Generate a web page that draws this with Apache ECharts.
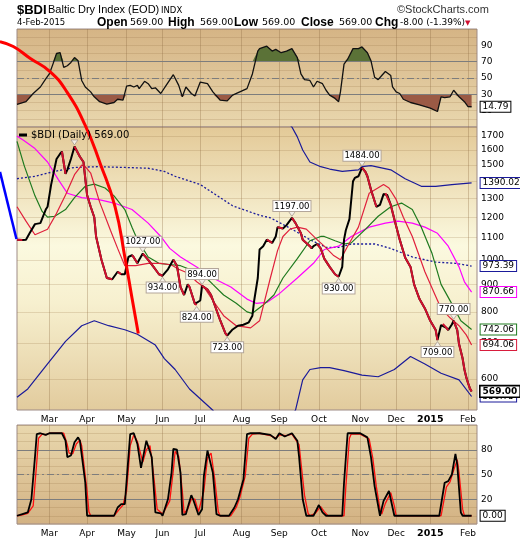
<!DOCTYPE html>
<html><head><meta charset="utf-8">
<script src="https://cdn.jsdelivr.net/npm/echarts@6/dist/echarts.min.js"></script>
<style>html,body{margin:0;padding:0;background:#fff}#c{width:520px;height:540px}</style>
</head><body><div id="c"></div>
<script>
// ---- trading calendar (weekdays, minus exchange holidays) ----
const holidays = ['2014-05-05','2014-05-26','2014-12-24','2014-12-25','2014-12-26','2014-12-31','2015-01-01'];
const monthNames = ['Jan','Feb','Mar','Apr','May','Jun','Jul','Aug','Sep','Oct','Nov','Dec'];
const days = [];
for (let t = Date.UTC(2014,1,5); t <= Date.UTC(2015,1,9); t += 86400000) {
  const d = new Date(t), wd = d.getUTCDay();
  if (wd === 0 || wd === 6) continue;
  const s = d.toISOString().slice(0,10);
  if (holidays.indexOf(s) >= 0) continue;
  days.push(s);
}
// ---- data: [trading-day index, value] ----
const price = [[0,1090],[3,1088],[5,1090],[7,1120],[10,1165],[13,1170],[16,1240],[17,1255],[19,1380],[22,1540],[24,1575],[25,1590],[27,1445],[28,1470],[29,1475],[30,1540],[32,1625],[35,1555],[37,1520],[39,1320],[41,1255],[43,1200],[44,1105],[47,1000],[50,925],[53,920],[55,940],[56,950],[58,940],[60,940],[62,1012],[64,1020],[65,1010],[67,985],[68,1000],[70,1027],[73,1000],[76,970],[79,940],[81,934],[84,960],[87,1000],[89,975],[91,890],[93,860],[95,900],[96,890],[99,828],[100,824],[102,840],[103,894],[106,880],[108,860],[110,824],[113,773],[116,730],[117,723],[120,742],[123,754],[126,757],[129,765],[131,787],[132,840],[134,925],[135,1045],[137,1060],[139,1090],[140,1085],[142,1075],[144,1105],[145,1150],[146,1145],[148,1143],[150,1160],[153,1197],[155,1170],[158,1120],[159,1090],[161,1075],[163,1060],[164,1050],[165,1060],[167,1070],[169,1050],[171,1005],[174,970],[177,940],[179,930],[181,970],[182,1090],[183,1135],[185,1190],[187,1400],[188,1420],[190,1430],[192,1484],[194,1455],[195,1430],[197,1350],[200,1255],[202,1265],[204,1325],[205,1330],[206,1320],[208,1265],[210,1190],[213,1090],[216,1010],[219,970],[221,900],[224,845],[227,812],[230,770],[233,740],[234,709],[236,756],[237,760],[239,747],[240,740],[242,758],[243,770],[245,740],[246,697],[248,655],[249,625],[250,605],[251,590],[252,577],[253,569]];
const maRed = [[0,1255],[5,1180],[10,1113],[17,1140],[22,1220],[27,1320],[32,1440],[36,1500],[38,1490],[41,1450],[46,1280],[52,1135],[56,1050],[60,975],[66,975],[73,985],[80,985],[86,978],[90,960],[95,945],[100,910],[104,890],[109,840],[115,787],[122,754],[130,747],[135,770],[141,925],[145,1040],[148,1105],[152,1140],[156,1150],[161,1140],[167,1090],[171,1060],[176,1020],[180,1000],[184,1060],[190,1150],[196,1330],[204,1380],[207,1360],[211,1295],[215,1200],[220,1105],[227,950],[232,870],[236,812],[241,780],[246,754],[250,725],[253,694.06]];
const maGreen = [[0,1660],[4,1497],[10,1315],[14,1230],[17,1200],[21,1205],[27,1240],[32,1305],[38,1370],[43,1383],[49,1360],[54,1315],[60,1240],[64,1150],[67,1090],[73,1012],[79,985],[85,980],[91,975],[96,960],[104,935],[109,900],[115,860],[122,830],[128,800],[131,795],[137,824],[143,860],[148,925],[156,1005],[163,1085],[169,1105],[171,1105],[177,1085],[182,1070],[186,1075],[194,1140],[201,1205],[208,1255],[214,1275],[220,1240],[225,1150],[231,1027],[236,900],[242,828],[247,770],[253,742.06]];
const maMagenta = [[0,1700],[4,1665],[10,1610],[17,1520],[23,1410],[28,1330],[36,1305],[45,1295],[54,1275],[64,1240],[73,1170],[80,1105],[85,1050],[91,1012],[100,970],[109,925],[119,890],[128,845],[133,830],[139,833],[146,865],[156,925],[165,985],[171,1045],[179,1060],[186,1105],[196,1150],[205,1170],[212,1180],[220,1170],[227,1150],[234,1120],[240,1060],[246,970],[249,910],[253,870.66]];
const bbMid = [[0,1415],[10,1430],[21,1460],[32,1485],[45,1490],[60,1485],[73,1480],[82,1460],[88,1430],[102,1380],[120,1260],[135,1210],[141,1197],[153,1140],[163,1090],[172,1055],[179,1055],[186,1070],[199,1070],[208,1050],[220,1012],[233,990],[244,985],[253,973.39]];
const bbUpper = [[0,2270],[45,2210],[73,2270],[101,2190],[120,2065],[135,1990],[145,1880],[153,1766],[156,1693],[159,1600],[163,1520],[169,1490],[174,1475],[181,1460],[190,1470],[192,1490],[197,1497],[208,1470],[216,1415],[225,1370],[233,1370],[242,1380],[253,1390.02]];
const bbLower = [[0,555],[6,575],[17,640],[27,705],[36,754],[43,770],[51,754],[60,741],[67,727],[77,694],[82,655],[85,640],[88,625],[96,575],[109,525],[120,455],[135,430],[145,480],[155,525],[159,598],[163,625],[169,630],[174,630],[182,622],[192,610],[201,606],[210,625],[219,661],[227,640],[236,615],[246,598],[253,556.75]];
const rsi = [[0,17.7],[5,21],[9,31],[13,39],[16,49],[18,55],[20,67],[22,80],[24,81],[25,81],[26,63],[28,65],[30,69],[32,75],[34,71],[36,47],[38,39],[41,33],[43,27],[46,21],[50,18],[54,20],[56,24],[59,23],[61,40],[63,41],[65,39],[67,41],[68,37],[71,46],[73,43],[75,37],[77,38],[80,31],[83,41],[87,54],[90,41],[92,27],[94,39],[97,31],[99,28],[102,45],[103,46],[106,43],[109,33],[113,23],[117,22],[120,29],[124,33],[128,37],[131,55],[134,83],[135,86],[139,89],[142,83],[144,85],[147,81],[150,83],[153,86],[156,75],[158,55],[160,48],[163,47],[165,39],[167,46],[170,43],[172,35],[174,29],[177,25],[179,21],[180,33],[182,67],[184,73],[187,86],[190,86],[192,88],[195,81],[197,71],[199,51],[201,48],[203,53],[205,58],[208,53],[209,39],[211,33],[213,31],[215,24],[219,20],[224,17],[230,13],[234,9],[236,27],[238,26],[241,27],[243,35],[246,27],[249,21],[251,15],[253,14.79]];
const stochK = [[0,0],[3,2],[6,4],[8,20],[10,71],[11,99],[13,100],[16,98],[18,100],[25,100],[27,91],[28,71],[30,73],[32,89],[34,95],[35,91],[38,40],[39,0],[54,0],[56,10],[58,14],[60,14],[62,71],[63,99],[65,100],[67,87],[69,58],[72,91],[73,91],[75,71],[77,4],[80,3],[81,0],[84,20],[86,52],[87,81],[89,80],[91,52],[92,1],[94,2],[97,25],[98,20],[101,1],[103,8],[104,48],[106,79],[107,78],[109,52],[111,2],[113,0],[118,0],[121,10],[123,20],[126,44],[128,99],[130,100],[135,100],[141,98],[144,93],[146,100],[149,96],[153,100],[156,91],[157,71],[159,20],[161,0],[165,0],[168,13],[170,4],[172,0],[181,0],[182,40],[184,100],[191,100],[195,95],[197,71],[199,36],[202,0],[204,18],[207,30],[208,29],[209,10],[210,0],[235,0],[238,40],[240,42],[242,50],[244,75],[245,62],[247,4],[248,0],[253,0]];
const stochD = [[0,0],[3,1],[6,3],[9,12],[11,65],[12,94],[14,99],[16,98],[18,100],[26,100],[28,86],[29,76],[31,75],[33,87],[35,92],[36,85],[39,30],[40,5],[41,0],[54,0],[57,8],[59,13],[61,30],[63,85],[65,98],[67,90],[70,65],[72,80],[74,85],[76,50],[78,8],[81,2],[82,0],[85,18],[87,55],[88,78],[90,72],[92,30],[93,3],[95,8],[97,20],[99,20],[101,5],[102,3],[104,30],[106,70],[108,76],[110,45],[112,5],[113,0],[119,0],[122,10],[124,22],[127,48],[129,94],[131,99],[135,100],[141,97],[144,94],[146,98],[150,97],[153,99],[157,86],[158,65],[160,25],[162,3],[163,0],[166,3],[169,11],[171,5],[173,0],[182,0],[183,35],[185,94],[186,99],[191,99],[196,93],[198,70],[200,35],[202,8],[203,2],[205,15],[208,28],[210,12],[211,0],[236,0],[239,35],[241,41],[243,55],[245,68],[246,52],[248,8],[249,0],[253,0]];
const peaks = [[70,1027,'up'],[81,934,'dn'],[103,894,'up'],[100,824,'dn'],[117,723,'dn'],[153,1197,'up'],[179,930,'dn'],[192,1484,'up'],[243,770,'up'],[234,709,'dn']];
const marchPeak = [32,1625];
const mainTicks = [600,700,800,900,1000,1100,1200,1300,1400,1500,1600,1700];
// hand-drawn annotation curves (in day-index / price units)
const arcDay = [-9.46,-2.06,7.23,18.36,27.66,37.84,46.19,54.54,60.1,64.0,67.5];
const arcVal = [2546,2493,2371,2239,2055,1782,1514,1256,1008,849,729];
const blueDay = [-9.46,-0.3];
const blueVal = [1457,1093];

// ---- build ----
const FONT = 'DejaVu Sans';
const N = days.length;              // 257 slots
const pxPerDay = 460 / (N - 1);
const LOG_MIN = Math.log10(525.5), LOG_MAX = Math.log10(1766);
const logPerPx = (LOG_MAX - LOG_MIN) / 283;
const isMonthStart = i => i > 0 && days[i].slice(5,7) !== days[i-1].slice(5,7);
const downSeg = [];
let prevDown = false;
for (let i = 1; i < price.length; i++) {
  const down = price[i][1] < price[i-1][1];
  if (down) {
    if (!prevDown) { if (downSeg.length) downSeg.push([price[i-1][0], '-']); downSeg.push(price[i-1]); }
    downSeg.push(price[i]);
  }
  prevDown = down;
}
const G = echarts.graphic.LinearGradient;
const faint = 'rgba(150,115,70,0.22)';
const vline = 'rgba(140,105,65,0.32)';
function tag(color, bold) {
  return { show:true, distance:9, formatter: p => Number(p.value[1]).toFixed(2),
    backgroundColor:'#fff', borderColor:color, borderWidth: bold?1.6:1, padding:[1,2,0,2],
    fontFamily:FONT, fontSize:9, fontWeight: bold?'bold':'normal', color:'#000' };
}
const xLabel = { show:true, interval:(i)=>isMonthStart(i), margin:5, fontFamily:FONT, fontSize:9, color:'#000',
  formatter:(v)=>{ const m=+v.slice(5,7); return m===1 ? '{b|'+v.slice(0,4)+'}' : monthNames[m-1]; },
  rich:{ b:{ fontWeight:'bold', fontFamily:FONT, fontSize:9.5, color:'#000' } } };
const xSplit = { show:true, interval:(i)=>isMonthStart(i), lineStyle:{ color:vline, width:1 } };
function catAxis(gi, labels) {
  return { type:'category', gridIndex:gi, data:days, boundaryGap:false, axisLine:{show:false}, axisTick:{show:false},
    axisLabel: labels ? xLabel : {show:false}, splitLine:xSplit };
}
const gridBorder = '#9e8b86';
const option = {
  animation:false,
  grid:[
    {left:17, right:43, top:29, height:98, show:true, borderColor:gridBorder, borderWidth:1,
      backgroundColor:new G(0,0,0,1,[{offset:0,color:'#d5b485'},{offset:1,color:'#e9d7ae'}])},
    {left:17, right:43, top:127, height:283, show:true, borderColor:gridBorder, borderWidth:1,
      backgroundColor:new G(0,0,0,1,[{offset:0,color:'#e3c997'},{offset:0.42,color:'#fbf9df'},{offset:0.62,color:'#f7f0cf'},{offset:1,color:'#e2cb9d'}])},
    {left:17, right:43, top:425, height:99, show:true, borderColor:gridBorder, borderWidth:1,
      backgroundColor:new G(0,0,0,1,[{offset:0,color:'#e9d8ae'},{offset:1,color:'#d3b283'}])},
    // overlay for the hand-drawn annotation: same scales as the price panel, extended to the page's top-left corner
    {left:0, right:43, top:0, height:410, show:false}
  ],
  xAxis:[ catAxis(0,false), catAxis(1,true), catAxis(2,true),
    {type:'value', gridIndex:3, min:-17/pxPerDay, max:N-1, show:false} ],
  yAxis:[
    {type:'value', gridIndex:0, position:'right', min:-10, max:110, interval:20, axisLine:{show:false}, axisTick:{show:false},
      axisLabel:{margin:4, fontFamily:FONT, fontSize:9, color:'#000', formatter:v=>(v<0||v>100)?'':String(v)},
      splitLine:{show:true, lineStyle:{color:faint}}, minorTick:{show:false, splitNumber:2}, minorSplitLine:{show:true, lineStyle:{color:faint}}},
    {type:'log', gridIndex:1, position:'right', min:525.5, max:1766, axisLine:{show:false}, axisTick:{show:false}, axisLabel:{show:false}, splitLine:{show:false}},
    {type:'value', gridIndex:2, position:'right', min:-10, max:110, interval:30, axisLine:{show:false}, axisTick:{show:false},
      axisLabel:{margin:4, fontFamily:FONT, fontSize:9, color:'#000', formatter:v=>(v<0||v>100)?'':String(v)},
      splitLine:{show:true, lineStyle:{color:faint}}, minorTick:{show:false, splitNumber:3}, minorSplitLine:{show:true, lineStyle:{color:faint}}},
    {type:'log', gridIndex:3, min:525.5, max:Math.pow(10, LOG_MAX + 127*logPerPx), show:false}
  ],
  series:[
    // RSI panel
    {type:'line', xAxisIndex:0, yAxisIndex:0, data:rsi.map(p=>[p[0],Math.max(p[1],70)]), showSymbol:false, silent:true,
      lineStyle:{width:0}, areaStyle:{color:'#5b7237', opacity:1, origin:70}, z:2},
    {type:'line', xAxisIndex:0, yAxisIndex:0, data:rsi.map(p=>[p[0],Math.min(p[1],30)]), showSymbol:false, silent:true,
      lineStyle:{width:0}, areaStyle:{color:'#9b5a45', opacity:1, origin:30}, z:2},
    {type:'line', xAxisIndex:0, yAxisIndex:0, data:rsi, showSymbol:false, silent:true, z:4,
      lineStyle:{color:'#111', width:1.3}, endLabel:tag('#000',false),
      markLine:{silent:true, symbol:'none', z:3, label:{show:false},
        data:[{yAxis:70, lineStyle:{color:'#7d7d7d', width:1.2, type:'solid'}},
              {yAxis:30, lineStyle:{color:'#7d7d7d', width:1.2, type:'solid'}},
              {yAxis:50, lineStyle:{color:'#7d7d7d', width:1.2, type:[7,3,2,3]}}]}},
    // main panel
    {type:'line', xAxisIndex:1, yAxisIndex:1, data:bbLower, showSymbol:false, silent:true, z:3,
      lineStyle:{color:'#1a1a9a', width:1.2}, endLabel:tag('#1a1a9a',false),
      markLine:{silent:true, symbol:'none', z:1, lineStyle:{color:faint, width:1, type:'solid'},
        label:{show:true, position:'end', distance:4, formatter:p=>String(p.value), fontFamily:FONT, fontSize:9, color:'#000'},
        data:mainTicks.map(v=>({yAxis:v}))}},
    {type:'line', xAxisIndex:1, yAxisIndex:1, data:bbUpper, showSymbol:false, silent:true, z:3,
      lineStyle:{color:'#1a1a9a', width:1.2}, endLabel:tag('#1a1a9a',false)},
    {type:'line', xAxisIndex:1, yAxisIndex:1, data:bbMid, showSymbol:false, silent:true, z:3,
      lineStyle:{color:'#1a1a9a', width:1.3, type:[2,2]}, endLabel:tag('#1a1a9a',false)},
    {type:'line', xAxisIndex:1, yAxisIndex:1, data:maMagenta, showSymbol:false, silent:true, z:3,
      lineStyle:{color:'#ff00ff', width:1.2}, endLabel:tag('#ff00ff',false)},
    {type:'line', xAxisIndex:1, yAxisIndex:1, data:maGreen, showSymbol:false, silent:true, z:3,
      lineStyle:{color:'#1f7a1f', width:1.2}, endLabel:tag('#1f7a1f',false)},
    {type:'line', xAxisIndex:1, yAxisIndex:1, data:maRed, showSymbol:false, silent:true, z:3,
      lineStyle:{color:'#e0203c', width:1.2}, endLabel:tag('#d81c3c',false)},
    {type:'line', xAxisIndex:1, yAxisIndex:1, data:price, showSymbol:false, silent:true, z:5,
      lineStyle:{color:'#000', width:2}, endLabel:tag('#000',true),
      markPoint:{silent:true, symbol:'triangle', symbolSize:[7,5],
        itemStyle:{color:'#f3efe6', borderColor:'#a89c90', borderWidth:0.8},
        label:{show:true, formatter:p=>p.name, backgroundColor:'#fff', borderColor:'#b3a69a', borderWidth:1,
          padding:[1,1,0,1], fontFamily:FONT, fontSize:8.5, color:'#000'},
        data: peaks.map(p=>({coord:[p[0],p[1]], name:p[1].toFixed(2), symbolRotate:p[2]==='up'?180:0,
          symbolOffset:[0,p[2]==='up'?-4:4], label:{position:p[2]==='up'?'top':'bottom', distance:0}}))
          .concat([{coord:marchPeak, name:'', symbolRotate:180, symbolOffset:[0,-4], label:{show:false}}])}},
    {type:'line', xAxisIndex:1, yAxisIndex:1, data:downSeg, showSymbol:false, silent:true, z:6, connectNulls:false,
      lineStyle:{color:'#d0102e', width:2}},
    // stochastic panel
    {type:'line', xAxisIndex:2, yAxisIndex:2, data:stochD, showSymbol:false, silent:true, z:3,
      lineStyle:{color:'#ff1010', width:1.3}},
    {type:'line', xAxisIndex:2, yAxisIndex:2, data:stochK, showSymbol:false, silent:true, z:4,
      lineStyle:{color:'#000', width:1.8}, endLabel:tag('#000',false),
      markLine:{silent:true, symbol:'none', z:2, label:{show:false},
        data:[{yAxis:80, lineStyle:{color:'#7d7d7d', width:1.2, type:'solid'}},
              {yAxis:20, lineStyle:{color:'#7d7d7d', width:1.2, type:'solid'}},
              {yAxis:50, lineStyle:{color:'#7d7d7d', width:1.2, type:[7,3,2,3]}}]}},
    // annotation curves
    {type:'line', xAxisIndex:3, yAxisIndex:3, data:arcDay.map((d,i)=>[d,arcVal[i]]), smooth:true, clip:false,
      showSymbol:false, silent:true, z:8, lineStyle:{color:'#ff0000', width:3}},
    {type:'line', xAxisIndex:3, yAxisIndex:3, data:blueDay.map((d,i)=>[d,blueVal[i]]), clip:false,
      showSymbol:false, silent:true, z:8, lineStyle:{color:'#0000ff', width:2.5}}
  ],
  graphic:[
    {type:'text', x:17, y:10, z:20, style:{text:'$BDI', fontFamily:'Liberation Sans', fontWeight:'bold', fontSize:13, fill:'#000', verticalAlign:'middle'}},
    {type:'text', x:48, y:10, z:20, style:{text:'Baltic Dry Index (EOD)', fontFamily:'Liberation Sans', fontSize:11, fill:'#000', verticalAlign:'middle'}},
    {type:'text', x:161, y:10.5, z:20, style:{text:'INDX', fontFamily:FONT, fontSize:8.5, fill:'#000', verticalAlign:'middle'}},
    {type:'text', x:397, y:10, z:20, style:{text:'\u00a9StockCharts.com', fontFamily:'Liberation Sans', fontSize:11, fill:'#333', verticalAlign:'middle'}},
    {type:'text', x:17, y:23, z:20, style:{text:'4-Feb-2015', fontFamily:FONT, fontSize:8.5, fill:'#000', verticalAlign:'middle'}},
    {type:'text', x:97, y:23, z:20, style:{text:'Open', fontFamily:'Liberation Sans', fontWeight:'bold', fontSize:12, fill:'#000', verticalAlign:'middle'}},
    {type:'text', x:130, y:23, z:20, style:{text:'569.00', fontFamily:FONT, fontSize:9.5, fill:'#000', verticalAlign:'middle'}},
    {type:'text', x:168, y:23, z:20, style:{text:'High', fontFamily:'Liberation Sans', fontWeight:'bold', fontSize:12, fill:'#000', verticalAlign:'middle'}},
    {type:'text', x:200, y:23, z:20, style:{text:'569.00', fontFamily:FONT, fontSize:9.5, fill:'#000', verticalAlign:'middle'}},
    {type:'text', x:234, y:23, z:20, style:{text:'Low', fontFamily:'Liberation Sans', fontWeight:'bold', fontSize:12, fill:'#000', verticalAlign:'middle'}},
    {type:'text', x:262, y:23, z:20, style:{text:'569.00', fontFamily:FONT, fontSize:9.5, fill:'#000', verticalAlign:'middle'}},
    {type:'text', x:301, y:23, z:20, style:{text:'Close', fontFamily:'Liberation Sans', fontWeight:'bold', fontSize:12, fill:'#000', verticalAlign:'middle'}},
    {type:'text', x:339, y:23, z:20, style:{text:'569.00', fontFamily:FONT, fontSize:9.5, fill:'#000', verticalAlign:'middle'}},
    {type:'text', x:375, y:23, z:20, style:{text:'Chg', fontFamily:'Liberation Sans', fontWeight:'bold', fontSize:12, fill:'#000', verticalAlign:'middle'}},
    {type:'text', x:400, y:23, z:20, style:{text:'-8.00 (-1.39%)', fontFamily:FONT, fontSize:9, fill:'#000', verticalAlign:'middle'}},
    {type:'text', x:465, y:23, z:20, style:{text:'\u25BC', fontFamily:FONT, fontSize:7, fill:'#d01030', verticalAlign:'middle'}},
    {type:'line', z:20, shape:{x1:19, y1:135, x2:27, y2:135}, style:{stroke:'#000', lineWidth:3}},
    {type:'text', x:31, y:135, z:20, style:{text:'$BDI (Daily) 569.00', fontFamily:FONT, fontSize:10, fill:'#000', verticalAlign:'middle'}}
  ]
};
echarts.init(document.getElementById('c'), null, {renderer:'canvas'}).setOption(option);
</script></body></html>
